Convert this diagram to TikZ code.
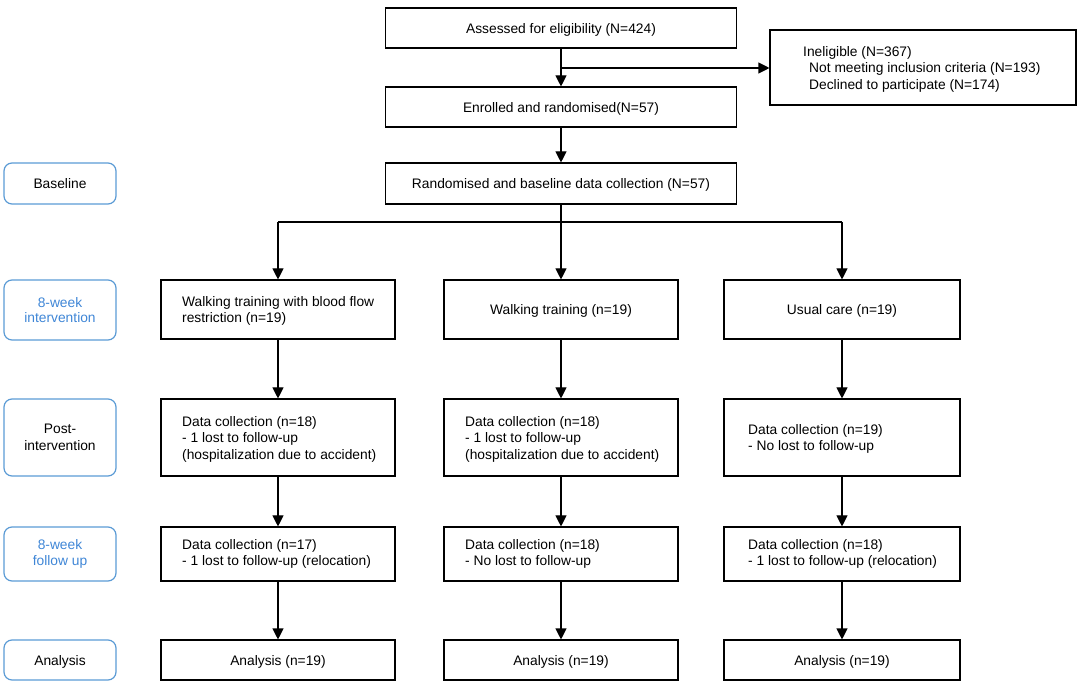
\documentclass[tikz,border=0pt]{standalone}
\usepackage{fontspec}
\setmainfont{Liberation Sans}
\usetikzlibrary{arrows.meta,calc}
\definecolor{lblue}{HTML}{5B9BD5}
\definecolor{tblue}{HTML}{3F86D6}
\begin{document}
\begin{tikzpicture}[x=1pt,y=-1pt,
  every node/.style={font=\fontsize{13.8}{16.5}\selectfont},
  box/.style={draw=black,line width=1.1pt,inner sep=0pt,align=center},
  one/.style={text height=10.5pt,text depth=0pt},
  lab/.style={draw=lblue,line width=1.2pt,rounded corners=8pt,inner sep=0pt,align=center,minimum width=112pt},
  txt/.style={inner sep=0pt,align=left,anchor=west,yshift=-1.5pt},
  arr/.style={line width=1.1pt,-{Triangle[length=11pt,width=11pt]}},
  ln/.style={line width=1.1pt}]
\useasboundingbox (0,0) rectangle (1080,684);
% top
\node[box,one,minimum width=351pt,minimum height=40pt] (assess) at (561,28) {Assessed for eligibility (N=424)};
\node[box,minimum width=306pt,minimum height=75pt] (inel) at (923,67.5) {};
\node[txt] (ineltxt) at (803,67.5) {Ineligible (N=367)\\\hspace*{6pt}Not meeting inclusion criteria (N=193)\\\hspace*{6pt}Declined to participate (N=174)};
\node[box,one,minimum width=351pt,minimum height=40pt] (enrol) at (561,107) {Enrolled and randomised(N=57)};
\node[box,one,minimum width=351pt,minimum height=41pt] (rand) at (561,183.5) {Randomised and baseline data collection (N=57)};
% labels
\node[lab,one,minimum height=41pt] (lbase) at (60,183.5) {Baseline};
\node[lab,minimum height=60pt,text=tblue] (lint) at (60,310) {\raisebox{-1pt}{8-week}\\intervention};
\node[lab,minimum height=77pt] (lpost) at (60,437.5) {Post-\\intervention};
\node[lab,minimum height=54pt,text=tblue] (lfu) at (60,554) {8-week\\follow up};
\node[lab,one,minimum height=40pt] (lana) at (60,660) {Analysis};
% row 2
\node[box,minimum width=234pt,minimum height=59pt] (a2) at (278,309.5) {};
\node[txt] (a2t) at (182,309.5) {Walking training with blood flow\\restriction (n=19)};
\node[box,one,minimum width=234pt,minimum height=59pt] (b2) at (561,309.5) {Walking training (n=19)};
\node[box,one,minimum width=236pt,minimum height=59pt] (c2) at (842,309.5) {Usual care (n=19)};
% row 3
\node[box,minimum width=234pt,minimum height=77pt] (a3) at (278,437.5) {};
\node[txt] (a3t) at (182,437.5) {Data collection (n=18)\\- 1 lost to follow-up\\(hospitalization due to accident)};
\node[box,minimum width=234pt,minimum height=77pt] (b3) at (561,437.5) {};
\node[txt] (b3t) at (465,437.5) {Data collection (n=18)\\- 1 lost to follow-up\\(hospitalization due to accident)};
\node[box,minimum width=236pt,minimum height=77pt] (c3) at (842,437.5) {};
\node[txt] (c3t) at (748,437.5) {Data collection (n=19)\\- No lost to follow-up};
% row 4
\node[box,minimum width=234pt,minimum height=54pt] (a4) at (278,554) {};
\node[txt] (a4t) at (182,552.5) {Data collection (n=17)\\- 1 lost to follow-up (relocation)};
\node[box,minimum width=234pt,minimum height=54pt] (b4) at (561,554) {};
\node[txt] (b4t) at (465,552.5) {Data collection (n=18)\\- No lost to follow-up};
\node[box,minimum width=236pt,minimum height=54pt] (c4) at (842,554) {};
\node[txt] (c4t) at (748,552.5) {Data collection (n=18)\\- 1 lost to follow-up (relocation)};
% row 5
\node[box,one,minimum width=234pt,minimum height=40pt] (a5) at (278,660) {Analysis (n=19)};
\node[box,one,minimum width=234pt,minimum height=40pt] (b5) at (561,660) {Analysis (n=19)};
\node[box,one,minimum width=236pt,minimum height=40pt] (c5) at (842,660) {Analysis (n=19)};
% connectors
\coordinate (br) at (561,68);
\draw[arr] (assess.south) -- (enrol.north);
\draw[arr] (br) -- (br -| inel.west);
\draw[arr] (enrol.south) -- (rand.north);
\coordinate (split) at (561,222);
\draw[ln] (rand.south) -- (split);
\draw[ln] (split -| a2.north) -- (split -| c2.north);
\draw[arr] (split -| a2.north) -- (a2.north);
\draw[arr] (split) -- (b2.north);
\draw[arr] (split -| c2.north) -- (c2.north);
\foreach \c in {a,b,c}{
  \draw[arr] (\c2.south) -- (\c3.north);
  \draw[arr] (\c3.south) -- (\c4.north);
  \draw[arr] (\c4.south) -- (\c5.north);
}
\end{tikzpicture}
\end{document}
